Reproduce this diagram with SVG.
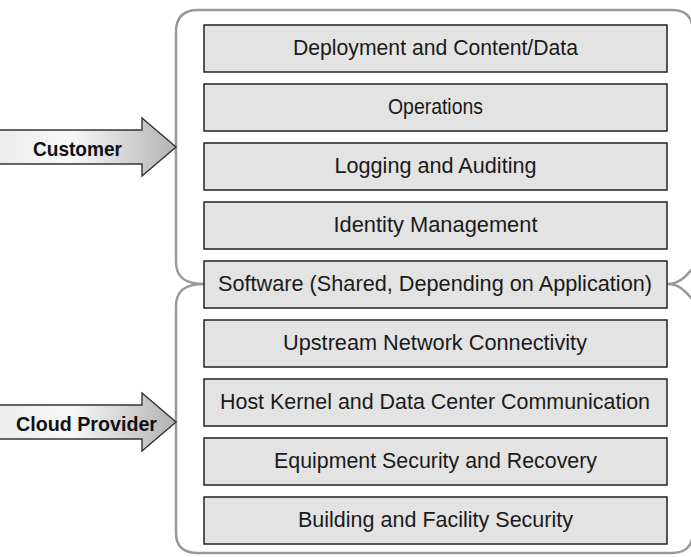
<svg xmlns="http://www.w3.org/2000/svg" width="691" height="557" viewBox="0 0 691 557">
<defs>
<linearGradient id="ag" x1="0" y1="0" x2="1" y2="0">
<stop offset="0" stop-color="#ececec"/>
<stop offset="0.4" stop-color="#f8f8f8"/>
<stop offset="1" stop-color="#b3b3b3"/>
</linearGradient>
<style>
.box{fill:#e3e3e3;stroke:#222;stroke-width:1.5}
.t{font-family:"Liberation Sans",Arial,sans-serif;font-size:22px;fill:#1a1a1a;text-anchor:middle}
.b{font-family:"Liberation Sans",Arial,sans-serif;font-size:21px;font-weight:bold;fill:#111;text-anchor:middle}
.br{fill:none;stroke:#999;stroke-width:2.5}
.af{fill:url(#ag);stroke:none}
.ao{fill:none;stroke:#333;stroke-width:1.4;stroke-linejoin:miter}
</style>
</defs>
<g id="connectors">
<path class="br" d="M204 284 C186 284 176 278 176 262 L176 32 Q176 10 198 10 L672 10 Q692 10 693 30"/>
<path class="br" d="M204 284 C186 284 176 290 176 306 L176 533 Q176 553 198 553 L672 553 Q692 553 693 533"/>
<path class="br" d="M667 284 C680 284 686 276 693 268 M667 284 C680 284 686 292 693 300"/>
</g>
<g id="customer">
<path class="af" d="M0 130 L142 130 L142 118 L176 147 L142 176 L142 164 L0 164 Z"/>
<path class="ao" d="M0 130 L142 130 L142 118 L176 147 L142 176 L142 164 L0 164"/>
<text class="b" x="77.5" y="156" textLength="89" lengthAdjust="spacingAndGlyphs">Customer</text>
</g>
<g id="cloud-provider">
<path class="af" d="M0 405 L142 405 L142 393 L176 422 L142 451 L142 439 L0 439 Z"/>
<path class="ao" d="M0 405 L142 405 L142 393 L176 422 L142 451 L142 439 L0 439"/>
<text class="b" x="86.5" y="431" textLength="141" lengthAdjust="spacingAndGlyphs">Cloud Provider</text>
</g>
<g id="deployment"><rect class="box" x="204" y="25" width="463" height="47"/><text class="t" x="435.5" y="55" textLength="285" lengthAdjust="spacingAndGlyphs">Deployment and Content/Data</text></g>
<g id="operations"><rect class="box" x="204" y="84" width="463" height="47"/><text class="t" x="435.5" y="114" textLength="95" lengthAdjust="spacingAndGlyphs">Operations</text></g>
<g id="logging"><rect class="box" x="204" y="143" width="463" height="47"/><text class="t" x="435.5" y="173" textLength="202" lengthAdjust="spacingAndGlyphs">Logging and Auditing</text></g>
<g id="identity"><rect class="box" x="204" y="202" width="463" height="47"/><text class="t" x="435.5" y="232" textLength="204" lengthAdjust="spacingAndGlyphs">Identity Management</text></g>
<g id="software"><rect class="box" x="204" y="261" width="463" height="47"/><text class="t" x="435" y="291" textLength="434" lengthAdjust="spacingAndGlyphs">Software (Shared, Depending on Application)</text></g>
<g id="upstream"><rect class="box" x="204" y="320" width="463" height="47"/><text class="t" x="435" y="350" textLength="304" lengthAdjust="spacingAndGlyphs">Upstream Network Connectivity</text></g>
<g id="host-kernel"><rect class="box" x="204" y="379" width="463" height="47"/><text class="t" x="435" y="409" textLength="430" lengthAdjust="spacingAndGlyphs">Host Kernel and Data Center Communication</text></g>
<g id="equipment"><rect class="box" x="204" y="438" width="463" height="47"/><text class="t" x="435.5" y="468" textLength="323" lengthAdjust="spacingAndGlyphs">Equipment Security and Recovery</text></g>
<g id="building"><rect class="box" x="204" y="497" width="463" height="47"/><text class="t" x="435.5" y="527" textLength="275" lengthAdjust="spacingAndGlyphs">Building and Facility Security</text></g>
</svg>
